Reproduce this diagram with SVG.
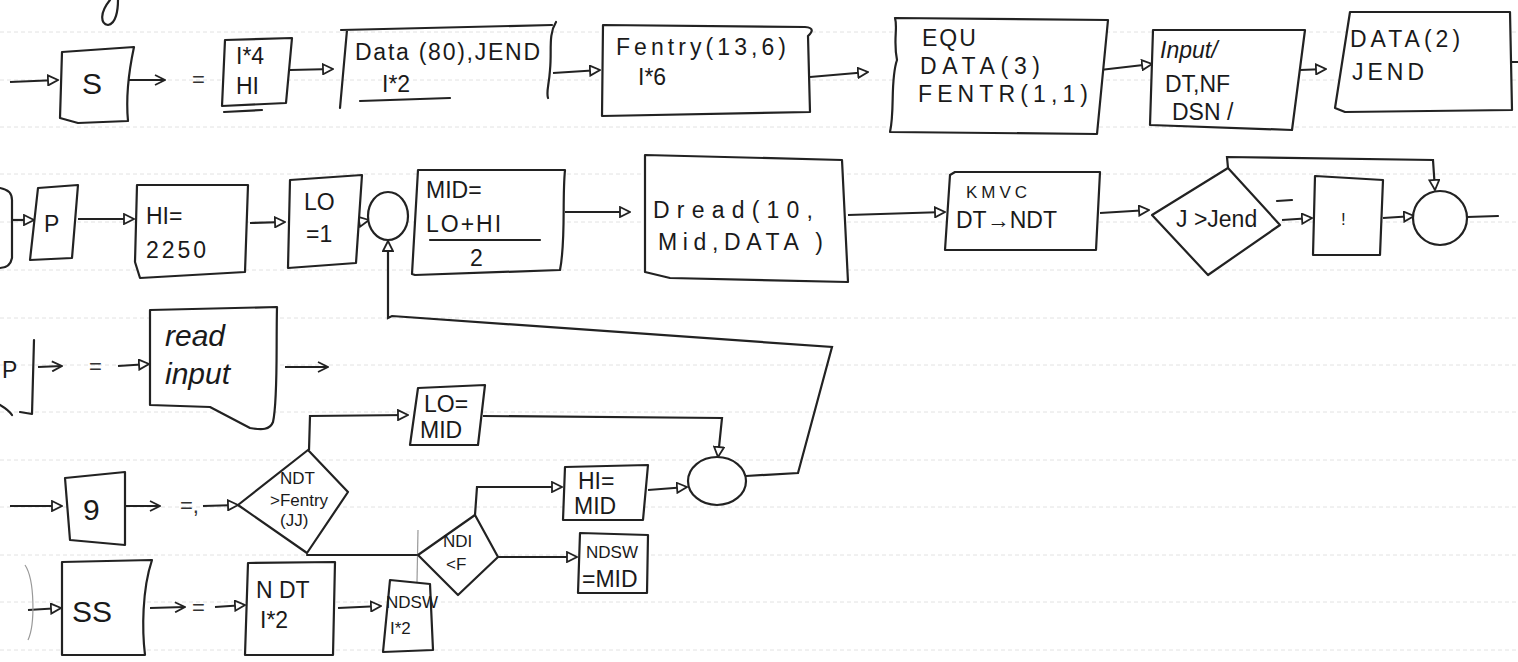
<svg xmlns="http://www.w3.org/2000/svg" width="1518" height="662" viewBox="0 0 1518 662">
<defs>
<marker id="tri" viewBox="0 0 12 12" refX="11" refY="6" markerWidth="12" markerHeight="12" markerUnits="userSpaceOnUse" orient="auto"><path d="M1,1 L11,6 L1,11 Z" fill="#fff" stroke="#222" stroke-width="1.8"/></marker>
<marker id="chev" viewBox="0 0 12 12" refX="11" refY="6" markerWidth="12" markerHeight="12" markerUnits="userSpaceOnUse" orient="auto"><path d="M1,1 L11,6 L1,11" fill="none" stroke="#222" stroke-width="1.8"/></marker>
<style>
.rule{stroke:#e2e2e2;stroke-width:1;stroke-dasharray:4 3}
.sh{fill:#fff;stroke:#222;stroke-width:2.2;stroke-linejoin:round;stroke-linecap:round}
.ln{fill:none;stroke:#222;stroke-width:2.2;stroke-linejoin:round;stroke-linecap:round}
.ar{fill:none;stroke:#222;stroke-width:2.2;marker-end:url(#tri)}
.ch{fill:none;stroke:#222;stroke-width:2;marker-end:url(#chev)}
.faint{fill:none;stroke:#999;stroke-width:1.2}
.t{font-family:"Liberation Sans",Arial,sans-serif;font-size:23px;fill:#1a1a1a}
.ts{font-family:"Liberation Sans",Arial,sans-serif;font-size:17px;fill:#1a1a1a}
.tb{font-family:"Liberation Sans",Arial,sans-serif;font-size:30px;fill:#1a1a1a}
.eq{font-family:"Liberation Sans",Arial,sans-serif;font-size:22px;fill:#333}
</style>
</defs>
<rect width="1518" height="662" fill="#fff"/>
<g id="ruling">
<line class="rule" x1="0" y1="32" x2="1518" y2="32"/>
<line class="rule" x1="0" y1="80" x2="1518" y2="80"/>
<line class="rule" x1="0" y1="127" x2="1518" y2="127"/>
<line class="rule" x1="0" y1="174" x2="1518" y2="174"/>
<line class="rule" x1="0" y1="222" x2="1518" y2="222"/>
<line class="rule" x1="0" y1="270" x2="1518" y2="270"/>
<line class="rule" x1="0" y1="318" x2="1518" y2="318"/>
<line class="rule" x1="0" y1="365" x2="1518" y2="365"/>
<line class="rule" x1="0" y1="412" x2="1518" y2="412"/>
<line class="rule" x1="0" y1="460" x2="1518" y2="460"/>
<line class="rule" x1="0" y1="507" x2="1518" y2="507"/>
<line class="rule" x1="0" y1="555" x2="1518" y2="555"/>
<line class="rule" x1="0" y1="602" x2="1518" y2="602"/>
<line class="rule" x1="0" y1="650" x2="1518" y2="650"/>
</g>
<path class="ln" d="M110,0 C100,12 100,24 108,25 C116,24 118,10 118,0" stroke-width="1.5"/>

<g id="connectors">
<line class="ar" x1="10" y1="82" x2="58" y2="80"/>
<line class="ch" x1="128" y1="80" x2="165" y2="80"/>
<line class="ar" x1="290" y1="70" x2="333" y2="69"/>
<line class="ar" x1="553" y1="73" x2="600" y2="70"/>
<line class="ar" x1="810" y1="77" x2="868" y2="72"/>
<line class="ar" x1="1100" y1="70" x2="1152" y2="64"/>
<line class="ar" x1="1300" y1="70" x2="1326" y2="69"/>
<line class="ar" x1="13" y1="220" x2="34" y2="220"/>
<line class="ar" x1="78" y1="219" x2="134" y2="219"/>
<line class="ar" x1="250" y1="223" x2="285" y2="222"/>
<line class="ar" x1="358" y1="222" x2="369" y2="220"/>
<line class="ar" x1="565" y1="212" x2="630" y2="212"/>
<line class="ar" x1="848" y1="215" x2="945" y2="212"/>
<line class="ar" x1="1100" y1="213" x2="1149" y2="210"/>
<line class="ar" x1="1282" y1="220" x2="1312" y2="218"/>
<line class="ln" x1="1277" y1="201" x2="1292" y2="200" stroke-width="1.5"/>
<line class="ar" x1="1383" y1="218" x2="1414" y2="216"/>
<polyline class="ar" points="1228,168 1227,157 1433,160 1435,190"/>
<line class="ln" x1="1467" y1="217" x2="1498" y2="216"/>
<polyline class="ar" points="746,476 798,473 832,347 392,316 388,318 388,241"/>
<line class="ch" x1="38" y1="367" x2="62" y2="366"/>
<line class="ar" x1="118" y1="366" x2="149" y2="364"/>
<line class="ch" x1="285" y1="367" x2="328" y2="367"/>
<line class="ar" x1="10" y1="506" x2="62" y2="506"/>
<line class="ch" x1="126" y1="506" x2="160" y2="506"/>
<line class="ar" x1="203" y1="506" x2="238" y2="505"/>
<polyline class="ar" points="309,450 310,416 408,415"/>
<polyline class="ar" points="483,416 722,418 718,457"/>
<line class="ln" x1="307" y1="555" x2="418" y2="555" stroke-width="3.5"/>
<polyline class="ar" points="475,515 477,487 562,487"/>
<line class="ar" x1="498" y1="557" x2="577" y2="557"/>
<line class="ar" x1="648" y1="490" x2="687" y2="487"/>
<line class="faint" x1="418" y1="530" x2="417" y2="582"/>
<line class="ar" x1="28" y1="610" x2="61" y2="608"/>
<line class="ch" x1="150" y1="608" x2="185" y2="607"/>
<line class="ar" x1="215" y1="607" x2="245" y2="605"/>
<line class="ar" x1="338" y1="608" x2="381" y2="606"/>
</g>

<g id="equals">
<text class="eq" x="192" y="87">=</text>
<text class="eq" x="89" y="374">=</text>
<text class="eq" x="180" y="513">=,</text>
<text class="eq" x="192" y="615">=</text>
</g>

<g id="n-S"><path class="sh" d="M62,52 L134,47 C128,75 126,100 128,121 L78,123 L60,118 Z"/><text class="tb" x="82" y="94">S</text></g>
<g id="n-I4HI"><path class="sh" d="M225,40 L292,38 L286,103 L222,106 Z"/><line class="ln" x1="224" y1="112" x2="262" y2="110" stroke-width="1.5"/><text class="t" x="236" y="64">I*4</text><text class="t" x="236" y="94">HI</text></g>
<g id="n-Data"><path class="ln" d="M347,30 L340,108 M341,30 L552,25 M556,22 C548,35 552,50 550,70 C549,85 546,92 548,98"/><text class="t" x="355" y="60" textLength="185">Data (80),JEND</text><text class="t" x="382" y="92">I*2</text><line class="ln" x1="360" y1="101" x2="450" y2="98" stroke-width="2.5"/></g>
<g id="n-Fentry"><path class="sh" d="M603,25 L805,27 C815,28 812,32 808,36 L810,112 L602,116 Z"/><text class="t" x="616" y="55" font-size="25" textLength="170">Fentry(13,6)</text><text class="t" x="638" y="85" font-size="25">I*6</text></g>
<g id="n-EQU"><path class="sh" d="M895,18 L1108,20 L1097,134 L890,132 C895,110 890,80 897,60 C893,40 898,28 895,18 Z"/><text class="t" x="922" y="46" letter-spacing="2">EQU</text><text class="t" x="920" y="74" textLength="120">DATA(3)</text><text class="t" x="918" y="102" textLength="170">FENTR(1,1)</text></g>
<g id="n-Input"><path class="sh" d="M1153,30 L1305,30 L1292,130 L1150,125 Z"/><text class="t" x="1160" y="58" font-style="italic" font-size="26">Input/</text><text class="t" x="1165" y="92">DT,NF</text><text class="t" x="1172" y="120">DSN /</text></g>
<g id="n-DATA2"><path class="sh" d="M1350,12 L1510,12 L1512,110 L1345,112 L1335,108 Z"/><line class="ln" x1="1512" y1="62" x2="1518" y2="62"/><text class="t" x="1350" y="47" letter-spacing="4">DATA(2)</text><text class="t" x="1352" y="80" letter-spacing="4">JEND</text></g>

<g id="n-left2"><path class="ln" d="M0,188 Q12,190 12,200 L12,258 Q10,268 0,268"/></g>
<g id="n-P"><path class="sh" d="M38,188 L78,185 L72,258 L30,260 Z"/><text class="t" x="44" y="232" font-size="26">P</text></g>
<g id="n-HI2250"><path class="sh" d="M137,185 L248,185 L245,272 L140,278 L135,262 Z"/><text class="t" x="146" y="224" font-size="26">HI=</text><text class="t" x="146" y="258" font-size="26" letter-spacing="3">2250</text></g>
<g id="n-LO1"><path class="sh" d="M290,180 L362,175 L356,263 L288,268 Z"/><text class="t" x="304" y="210" font-size="26">LO</text><text class="t" x="306" y="242" font-size="26">=1</text></g>
<g id="n-c1"><ellipse class="sh" cx="388" cy="216" rx="20" ry="24"/></g>
<g id="n-MID"><path class="sh" d="M418,170 L565,170 C562,200 566,240 560,270 L415,275 L412,274 Z"/><text class="t" x="426" y="198" font-size="26">MID=</text><text class="t" x="426" y="232" font-size="26" letter-spacing="2">LO+HI</text><line class="ln" x1="430" y1="240" x2="540" y2="240" stroke-width="1.5"/><text class="t" x="470" y="266">2</text></g>
<g id="n-Dread"><path class="sh" d="M645,155 L842,160 L848,282 L670,278 L645,272 Z"/><text class="t" x="653" y="218" font-size="26" textLength="160">Dread(10,</text><text class="t" x="658" y="250" font-size="26" textLength="165">Mid,DATA )</text></g>
<g id="n-KMVC"><path class="sh" d="M955,172 L1100,172 L1096,250 L945,250 L950,175 Z"/><text class="ts" x="966" y="198" font-size="19" letter-spacing="4">KMVC</text><text class="t" x="956" y="228" font-size="25">DT→NDT</text></g>
<g id="n-Jend"><path class="sh" d="M1152,215 L1228,168 L1280,225 L1208,275 Z"/><text class="t" x="1176" y="227">J &gt;Jend</text></g>
<g id="n-I"><path class="sh" d="M1315,176 L1383,180 L1380,255 L1313,255 Z"/><text class="ts" x="1341" y="225" fill="#aaa">!</text></g>
<g id="n-c2"><ellipse class="sh" cx="1440" cy="218" rx="27" ry="27"/></g>

<g id="n-P3"><path class="ln" d="M34,340 L32,414 L20,412 M0,405 C5,408 10,412 12,415"/><text class="t" x="2" y="378">P</text></g>
<g id="n-read"><path class="sh" d="M150,310 L277,307 C276,350 278,400 273,422 C270,430 262,430 250,428 L210,407 L150,405 Z"/><text class="tb" x="165" y="346" font-style="italic">read</text><text class="tb" x="165" y="384" font-style="italic">input</text></g>

<g id="n-LOMID"><path class="sh" d="M418,388 L485,385 L478,445 L410,445 Z"/><text class="t" x="424" y="412">LO=</text><text class="t" x="420" y="438">MID</text></g>
<g id="n-merge"><ellipse class="sh" cx="717" cy="481" rx="29" ry="24"/></g>
<g id="n-HIMID"><path class="sh" d="M565,467 L648,465 L643,520 L563,520 Z"/><text class="t" x="578" y="489">HI=</text><text class="t" x="574" y="514">MID</text></g>
<g id="n-g"><path class="sh" d="M65,478 L125,472 L125,545 L70,540 Z"/><text class="tb" x="83" y="520" font-size="34">9</text></g>
<g id="n-d1"><path class="sh" d="M238,505 L308,450 L348,492 L307,553 Z"/><text class="ts" x="280" y="484" font-size="19">NDT</text><text class="ts" x="270" y="506" font-size="16">&gt;Fentry</text><text class="ts" x="280" y="526">(JJ)</text></g>
<g id="n-d2"><path class="sh" d="M418,555 L475,515 L498,557 L458,595 Z"/><text class="ts" x="443" y="547" font-size="19">NDI</text><text class="ts" x="446" y="570" font-size="19">&lt;F</text></g>
<g id="n-NDSW"><path class="sh" d="M580,533 L648,535 L647,593 L578,593 Z"/><text class="ts" x="586" y="558" font-size="18">NDSW</text><text class="t" x="582" y="587">=MID</text></g>

<g id="n-SSleft"><path class="faint" d="M25,565 C35,580 35,625 28,640"/></g>
<g id="n-SS"><path class="sh" d="M62,562 L152,560 C142,590 142,630 145,655 L62,655 Z"/><text class="tb" x="72" y="622" font-size="34">SS</text></g>
<g id="n-NDT"><path class="sh" d="M248,563 L335,562 L333,655 L245,655 Z"/><text class="t" x="256" y="598" font-size="25">N DT</text><text class="t" x="260" y="628">I*2</text></g>
<g id="n-NDSW2"><path class="sh" d="M390,580 L430,584 L433,650 L383,652 Z"/><text class="ts" x="386" y="608" font-size="15">NDSW</text><text class="ts" x="390" y="634" font-size="18">I*2</text></g>
</svg>
